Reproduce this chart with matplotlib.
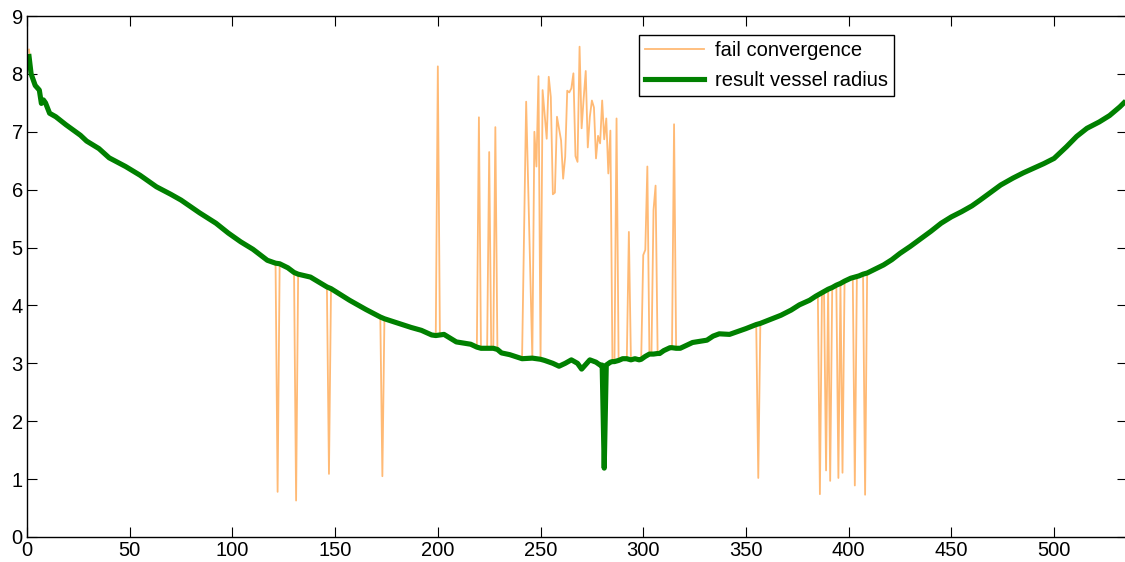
import numpy as np
import matplotlib.pyplot as plt

# result vessel radius (corrected curve)
radius_x = [1, 2, 4, 6, 7, 8, 9, 11, 14, 19, 26, 29, 35, 40, 48, 55, 63, 70, 75, 84,
            92, 98, 104, 110, 117, 121, 123, 127, 130, 132, 138, 146, 148, 157, 165, 172, 174, 180, 187, 192,
            197, 199, 201, 203, 209, 216, 219, 221, 224, 226, 227, 229, 231, 235, 240, 241, 246, 250, 252, 256,
            259, 262, 265, 268, 270, 272, 274, 277, 279, 280, 281, 282, 284, 285, 286, 288, 290, 292, 294, 296,
            298, 299, 301, 303, 304, 305, 307, 308, 310, 313, 314, 316, 318, 324, 331, 334, 337, 342, 346, 350,
            355, 357, 362, 367, 372, 376, 381, 384, 385, 387, 388, 390, 392, 394, 396, 398, 401, 402, 404, 405,
            407, 409, 413, 417, 421, 425, 430, 435, 440, 445, 450, 455, 460, 464, 469, 474, 480, 485, 490, 495,
            500, 506, 511, 516, 522, 527, 530, 532, 534]
radius_y = [8.30, 8.00, 7.80, 7.72, 7.49, 7.55, 7.50, 7.32, 7.26, 7.12, 6.94, 6.84, 6.71, 6.55, 6.40, 6.25, 6.05, 5.92, 5.82, 5.60,
            5.42, 5.25, 5.10, 4.97, 4.78, 4.73, 4.72, 4.65, 4.57, 4.54, 4.49, 4.32, 4.29, 4.09, 3.93, 3.80, 3.77, 3.70, 3.62, 3.57,
            3.49, 3.48, 3.49, 3.50, 3.37, 3.33, 3.28, 3.26, 3.26, 3.26, 3.26, 3.24, 3.18, 3.15, 3.09, 3.08, 3.09, 3.07, 3.05, 3.00,
            2.95, 3.00, 3.06, 3.00, 2.90, 2.98, 3.06, 3.02, 2.97, 2.97, 1.19, 2.97, 3.02, 3.03, 3.03, 3.05, 3.08, 3.08, 3.06, 3.08,
            3.06, 3.07, 3.12, 3.16, 3.16, 3.16, 3.17, 3.17, 3.22, 3.27, 3.27, 3.26, 3.26, 3.36, 3.40, 3.47, 3.51, 3.50, 3.55, 3.60,
            3.67, 3.69, 3.76, 3.83, 3.92, 4.01, 4.09, 4.16, 4.18, 4.22, 4.24, 4.28, 4.31, 4.35, 4.38, 4.42, 4.47, 4.48, 4.50, 4.51,
            4.54, 4.56, 4.63, 4.70, 4.79, 4.90, 5.02, 5.15, 5.28, 5.42, 5.53, 5.62, 5.72, 5.82, 5.95, 6.08, 6.20, 6.29, 6.37, 6.45,
            6.54, 6.74, 6.92, 7.06, 7.17, 7.28, 7.37, 7.43, 7.50]

# points where the fit failed to converge
fail_x = [1, 122, 131, 147, 173, 200, 220, 225, 228, 243, 247, 248, 249,
          251, 252, 253, 254, 255, 256, 257, 258, 259, 260, 261, 262, 263, 264, 265, 266, 267,
          268, 269, 270, 271, 272, 273, 274, 275, 276, 277, 278, 279, 280, 281, 282, 283, 284,
          287, 293, 300, 301, 302, 305, 306, 315, 356, 386, 389, 391, 395, 397, 403, 408]
fail_y = [8.42, 0.78, 0.63, 1.09, 1.05, 8.13, 7.25, 6.65, 7.08, 7.52, 7.00, 6.40, 7.96,
          7.72, 7.30, 6.88, 7.95, 7.60, 5.92, 5.95, 7.26, 7.05, 6.85, 6.19, 6.57, 7.71, 7.68, 7.75, 8.01, 6.58,
          6.48, 8.47, 7.06, 7.58, 8.05, 6.73, 7.26, 7.54, 7.42, 6.54, 6.93, 6.80, 7.54, 6.87, 7.23, 6.28, 7.02,
          7.23, 5.27, 4.87, 4.96, 6.40, 5.65, 6.07, 7.13, 1.02, 0.74, 1.15, 0.97, 1.02, 1.11, 0.89, 0.73]

pts = dict(zip(radius_x, radius_y))
pts.update(zip(fail_x, fail_y))
conv_x = sorted(pts)
conv_y = [pts[k] for k in conv_x]

plt.rcParams['font.family'] = ['Liberation Sans', 'DejaVu Sans']
plt.rcParams['font.size'] = 14.5

fig = plt.figure(figsize=(11.25, 5.62), dpi=100)
ax = fig.add_axes([27/1125, 25/562, 1100/1125, 521/562])

ax.plot(conv_x, conv_y, color=(1, 0.55, 0.1), alpha=0.6, lw=1.3, label='fail convergence')
ax.plot(radius_x, radius_y, color=(0, 0.5, 0), lw=3.7, label='result vessel radius')

ax.set_xlim(0, 535.5)
ax.set_ylim(0, 9)
ax.set_xticks(range(0, 501, 50))
ax.set_yticks(range(10))
ax.tick_params(direction='in', top=True, right=True, length=7.5, width=0.8, pad=3)
for s in ax.spines.values():
    s.set_linewidth(1)

leg = ax.legend(loc='upper right', bbox_to_anchor=(0.788, 0.9635), borderaxespad=0,
                fancybox=False, framealpha=1, edgecolor='black', handlelength=2.9,
                labelspacing=0.55, borderpad=0.3, handletextpad=0.55)
leg.get_frame().set_linewidth(1)

fig.savefig('out.png', dpi=100)
